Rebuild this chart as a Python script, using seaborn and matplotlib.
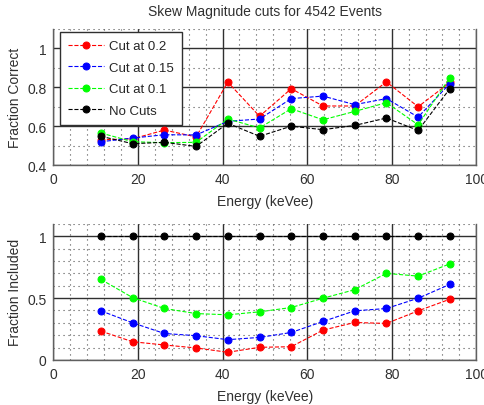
import matplotlib
matplotlib.use("Agg")
import matplotlib.pyplot as plt
from matplotlib.ticker import MultipleLocator
import seaborn as sns
import pandas as pd

# Energy bin centres (keVee)
energy = [11.25, 18.75, 26.25, 33.75, 41.25, 48.75, 56.25, 63.75, 71.25, 78.75, 86.25, 93.75]

# Fraction of events correctly classified, per cut
correct_cut_02 = [0.530, 0.535, 0.580, 0.545, 0.827, 0.651, 0.793, 0.704, 0.704, 0.828, 0.700, 0.825]
correct_cut_015 = [0.520, 0.539, 0.556, 0.555, 0.625, 0.637, 0.742, 0.755, 0.711, 0.742, 0.647, 0.819]
correct_cut_01 = [0.565, 0.520, 0.515, 0.517, 0.637, 0.591, 0.690, 0.633, 0.676, 0.721, 0.607, 0.850]
correct_no_cut = [0.548, 0.510, 0.517, 0.496, 0.615, 0.548, 0.600, 0.582, 0.604, 0.642, 0.578, 0.793]

# Fraction of events surviving each cut
included_cut_02 = [0.233, 0.147, 0.121, 0.097, 0.062, 0.102, 0.107, 0.241, 0.303, 0.295, 0.397, 0.491]
included_cut_015 = [0.397, 0.300, 0.214, 0.196, 0.164, 0.182, 0.222, 0.311, 0.397, 0.416, 0.499, 0.611]
included_cut_01 = [0.651, 0.504, 0.416, 0.375, 0.365, 0.389, 0.424, 0.499, 0.568, 0.700, 0.678, 0.777]
included_no_cut = [1.0] * 12

series_labels = ["Cut at 0.2", "Cut at 0.15", "Cut at 0.1", "No Cuts"]
series_colors = ["#ff0000", "#0000ff", "#00ff00", "#000000"]

sns.set_theme(style="white")
plt.rcParams["font.family"] = ["Liberation Sans", "DejaVu Sans"]

fig = plt.figure(figsize=(4.85, 4.06), dpi=100)
ax_top = fig.add_axes([0.110, 0.591, 0.872, 0.335])
ax_bot = fig.add_axes([0.110, 0.111, 0.872, 0.335])


def draw_panel(ax, columns, with_labels):
    for vals, lab, col in zip(columns, series_labels, series_colors):
        df = pd.DataFrame({"Energy": energy, "Value": vals})
        sns.lineplot(data=df, x="Energy", y="Value", ax=ax, color=col,
                     marker="o", markersize=5, markeredgecolor=col,
                     linestyle="--", dashes=(7, 5), linewidth=0.8,
                     label=lab if with_labels else None, legend=False, zorder=3)


def style_axes(ax, ylim, yticks, yticklabels, ylabel):
    ax.set_xlim(0, 100)
    ax.set_ylim(*ylim)
    ax.set_xticks([0, 20, 40, 60, 80, 100])
    ax.set_xticklabels(["0", "20", "40", "60", "80", "100"])
    ax.set_yticks(yticks)
    ax.set_yticklabels(yticklabels)
    ax.xaxis.set_minor_locator(MultipleLocator(4))
    ax.yaxis.set_minor_locator(MultipleLocator(0.1))
    ax.grid(which="major", color="#303030", linestyle="-", linewidth=1.0, zorder=1)
    ax.grid(which="minor", color="#505050", linestyle=(0, (1, 3.5)), linewidth=0.8, zorder=1)
    ax.set_axisbelow(True)
    ax.tick_params(axis="both", which="major", direction="in", length=3,
                   labelsize=10, colors="#303030", labelcolor="#303030", pad=5)
    ax.tick_params(axis="both", which="minor", length=0)
    for side in ["left", "bottom", "right"]:
        ax.spines[side].set_color("#606060")
        ax.spines[side].set_linewidth(1.0)
    ax.spines["top"].set_visible(False)
    ax.set_xlabel("Energy (keVee)", fontsize=10, color="#303030", labelpad=6)
    ax.set_ylabel(ylabel, fontsize=10, color="#303030", labelpad=4)


draw_panel(ax_top, [correct_cut_02, correct_cut_015, correct_cut_01, correct_no_cut], True)
style_axes(ax_top, (0.4, 1.1), [0.4, 0.6, 0.8, 1.0], ["0.4", "0.6", "0.8", "1"], "Fraction Correct")
ax_top.set_title("Skew Magnitude cuts for 4542 Events", fontsize=10, color="#303030", pad=10)

leg = ax_top.legend(loc="upper left", bbox_to_anchor=(0.016, 0.978), borderaxespad=0,
                    fontsize=9.5, frameon=True, fancybox=False, handlelength=2.7,
                    labelspacing=0.7, borderpad=0.6, handletextpad=0.4)
leg.get_frame().set_edgecolor("#303030")
leg.get_frame().set_linewidth(1.0)
leg.get_frame().set_facecolor("white")
leg.get_frame().set_alpha(1.0)
leg.set_zorder(5)

draw_panel(ax_bot, [included_cut_02, included_cut_015, included_cut_01, included_no_cut], False)
style_axes(ax_bot, (0, 1.1), [0, 0.5, 1.0], ["0", "0.5", "1"], "Fraction Included")

fig.savefig("out.png", dpi=100, facecolor="white")
